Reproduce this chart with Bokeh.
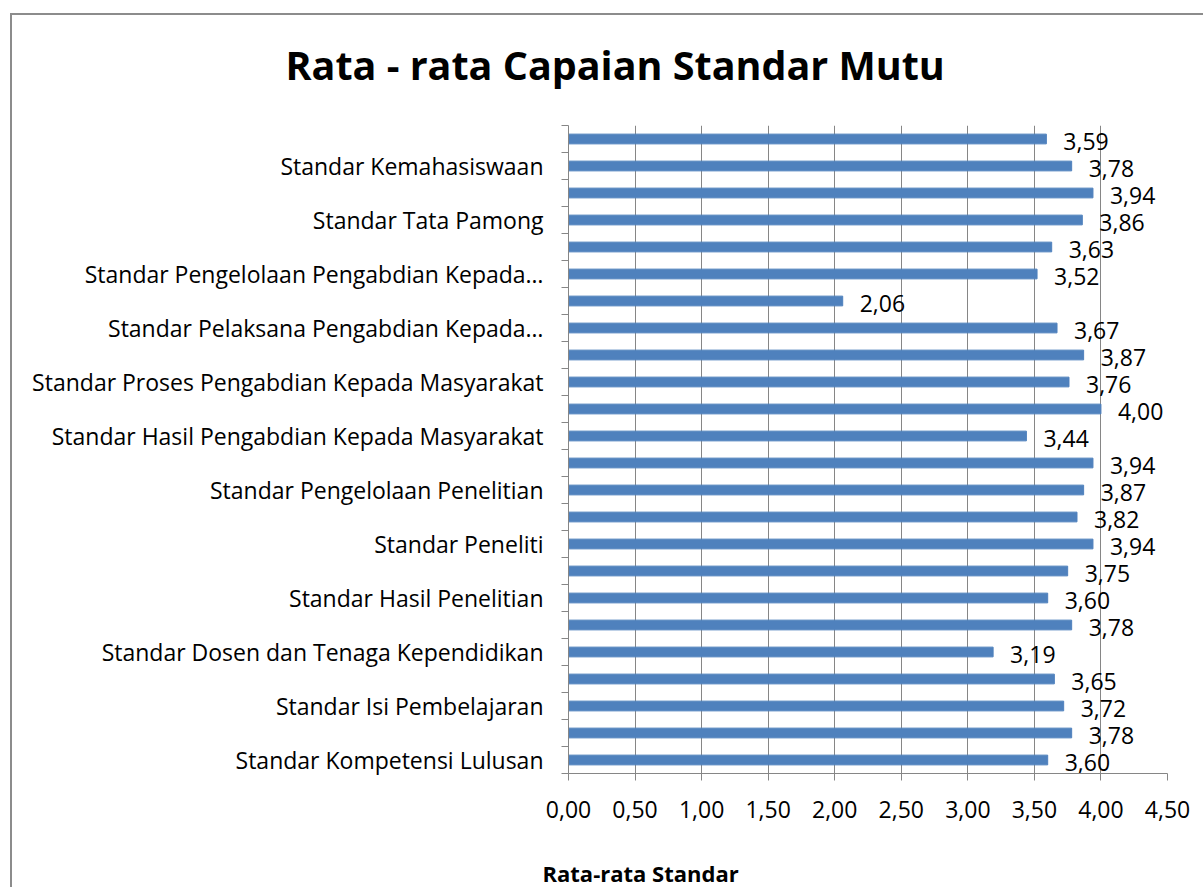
from bokeh.plotting import figure
from bokeh.layouts import column
from bokeh.models import FixedTicker, CustomJSTickFormatter, ColumnDataSource
from bokeh.embed import file_html
from bokeh.resources import INLINE
from bokeh.core.properties import value

# categories from bottom to top (only every other one is labelled on the axis)
categories = [
    "Standar Kompetensi Lulusan",
    "Standar Proses Pembelajaran",
    "Standar Isi Pembelajaran",
    "Standar Penilaian Pembelajaran",
    "Standar Dosen dan Tenaga Kependidikan",
    "Standar Sarana dan Prasarana Pembelajaran",
    "Standar Hasil Penelitian",
    "Standar Isi Penelitian",
    "Standar Peneliti",
    "Standar Proses Penelitian",
    "Standar Pengelolaan Penelitian",
    "Standar Pendanaan Penelitian",
    "Standar Hasil Pengabdian Kepada Masyarakat",
    "Standar Isi Pengabdian Kepada Masyarakat",
    "Standar Proses Pengabdian Kepada Masyarakat",
    "Standar Penilaian Pengabdian Kepada Masyarakat",
    "Standar Pelaksana Pengabdian Kepada…",
    "Standar Sarana Pengabdian Kepada…",
    "Standar Pengelolaan Pengabdian Kepada…",
    "Standar Pendanaan Pengabdian Kepada…",
    "Standar Tata Pamong",
    "Standar Kerjasama",
    "Standar Kemahasiswaan",
    "Standar Sistem Informasi",
]
values = [3.60, 3.78, 3.72, 3.65, 3.19, 3.78, 3.60, 3.75, 3.94, 3.82, 3.87, 3.94,
          3.44, 4.00, 3.76, 3.87, 3.67, 2.06, 3.52, 3.63, 3.86, 3.94, 3.78, 3.59]
x_ticks = [0.0, 0.5, 1.0, 1.5, 2.0, 2.5, 3.0, 3.5, 4.0, 4.5]
title_text = "Rata - rata Capaian Standar Mutu"
x_title = "Rata-rata Standar"

ypos = list(range(len(categories)))
labels = [f"{v:.2f}".replace(".", ",") for v in values]
src = ColumnDataSource(dict(y=ypos, v=values, lab=labels))

FONT = "Open Sans"
GRAY = "#868686"
FRAME = "#8c8c8c"

# ---- main chart ----
p = figure(width=1203, height=830, x_range=(0, 4.5), y_range=(-0.5, len(categories) - 0.5),
           output_backend="svg", toolbar_location=None,
           min_border_left=568, min_border_right=36, min_border_top=125, min_border_bottom=57)
p.border_fill_color = None
p.background_fill_color = "white"

p.hbar(y="y", right="v", left=0, height=0.36, color="#4F81BD", source=src)
p.text(x="v", y="y", text="lab", x_offset=17, y_offset=2, text_align="left",
       text_baseline="middle", text_font=value(FONT), text_font_size="23px",
       text_color="black", source=src)

p.outline_line_color = None
p.ygrid.visible = False
p.xgrid.ticker = FixedTicker(ticks=x_ticks)
p.xgrid.grid_line_color = GRAY
p.xgrid.grid_line_width = 1

xa = p.xaxis[0]
xa.ticker = FixedTicker(ticks=x_ticks)
xa.formatter = CustomJSTickFormatter(code="return tick.toFixed(2).replace('.', ',');")
xa.axis_line_color = GRAY
xa.major_tick_line_color = GRAY
xa.major_tick_out = 7
xa.major_tick_in = 0
xa.minor_tick_line_color = None
xa.major_label_text_font = FONT
xa.major_label_text_font_size = "23px"
xa.major_label_text_color = "black"
xa.major_label_standoff = 20

ya = p.yaxis[0]
ya.ticker = FixedTicker(ticks=ypos[::2], minor_ticks=[i - 0.5 for i in range(len(categories) + 1)])
ya.major_label_overrides = {i: categories[i] for i in ypos[::2]}
ya.axis_line_color = GRAY
ya.major_tick_line_color = None
ya.major_tick_out = 0
ya.major_tick_in = 0
ya.minor_tick_line_color = GRAY
ya.minor_tick_out = 7
ya.minor_tick_in = 0
ya.major_label_text_font = FONT
ya.major_label_text_font_size = "23px"
ya.major_label_text_color = "black"
ya.major_label_standoff = 18

p.title.text = title_text
p.title.align = "left"
p.title.offset = -283
p.title.standoff = 67
p.title.text_font = FONT
p.title.text_font_style = "bold"
p.title.text_font_size = "39.5px"
p.title.text_color = "black"

# ---- footer strip carrying the x-axis title ----
f = figure(width=1203, height=57, x_range=(0, 1), y_range=(0, 1),
           output_backend="svg", toolbar_location=None,
           x_axis_location=None, y_axis_location=None,
           title=x_title, title_location="below",
           min_border_left=568, min_border_right=36, min_border_top=0, min_border_bottom=0)
f.border_fill_color = None
f.background_fill_color = None
f.outline_line_color = None
f.grid.visible = False
f.title.align = "left"
f.title.offset = -26
f.title.standoff = 0
f.title.vertical_align = "bottom"
f.title.text_font = FONT
f.title.text_font_style = "bold"
f.title.text_font_size = "22px"
f.title.text_color = "black"

layout = column(p, f, spacing=0,
                styles={"margin": "0px",
                        "background-image": f"linear-gradient({FRAME},{FRAME}), linear-gradient({FRAME},{FRAME})",
                        "background-size": "2px 100%, 100% 2px",
                        "background-position": "10px 13px, 10px 13px",
                        "background-repeat": "no-repeat"})

open("out.html", "w").write(file_html(layout, INLINE))
